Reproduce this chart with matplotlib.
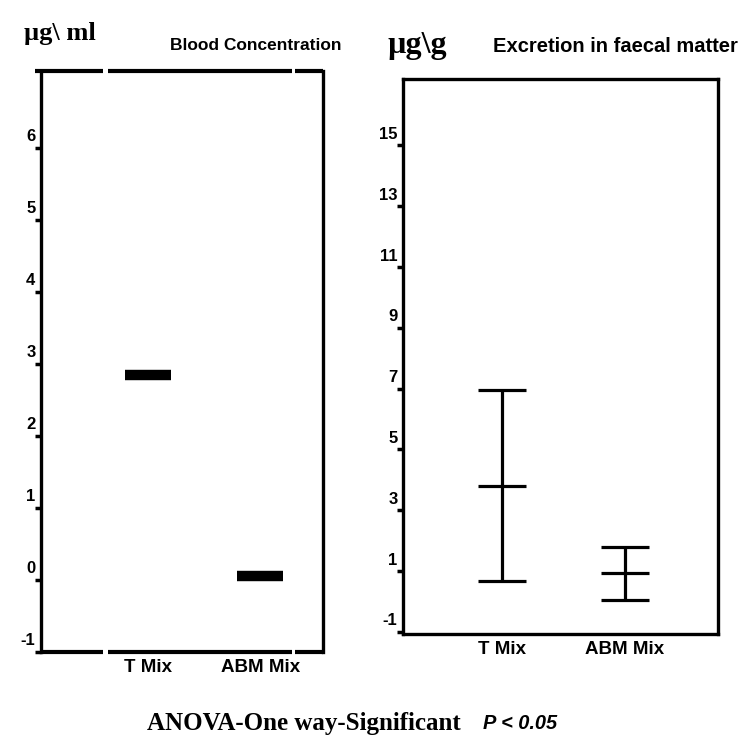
import matplotlib.pyplot as plt
from matplotlib.transforms import ScaledTranslation

groups = ["T Mix", "ABM Mix"]

blood_values = [2.85, 0.06]
blood_ticks = [-1, 0, 1, 2, 3, 4, 5, 6]

faecal_mean = [3.8, 0.93]
faecal_low = [0.67, 0.05]
faecal_high = [6.95, 1.79]
faecal_ticks = [-1, 1, 3, 5, 7, 9, 11, 13, 15]

SANS = ["Liberation Sans", "DejaVu Sans"]
SERIF = ["Liberation Serif", "DejaVu Serif"]

plt.rcParams["font.family"] = SANS


def style_axis(ax, fig, ticks):
    ax.set_yticks(ticks)
    ax.set_yticklabels([str(t) for t in ticks], fontsize=12, fontweight="bold")
    ax.tick_params(axis="y", direction="out", length=4, width=2.5, pad=0)
    ax.tick_params(axis="x", length=0, pad=5)
    offset = ScaledTranslation(0, 9 / 72, fig.dpi_scale_trans)
    for lbl in ax.get_yticklabels():
        lbl.set_transform(lbl.get_transform() + offset)
    ax.set_xticks(range(1, len(groups) + 1))
    ax.set_xticklabels(groups, fontsize=13.5, fontweight="bold")
    for side in ["left", "right", "top", "bottom"]:
        ax.spines[side].set_linewidth(2.4)


fig = plt.figure(figsize=(7.41, 7.39), dpi=100)

# left panel: blood concentration
ax1 = fig.add_axes([0.0553, 0.118, 0.3807, 0.786])
x_pos = range(1, len(groups) + 1)
ax1.plot(x_pos, blood_values, linestyle="none", marker="_", markersize=33,
         markeredgewidth=7.5, color="black")
ax1.set_xlim(0.04, 2.56)
ax1.set_ylim(-1, 7.07)
style_axis(ax1, fig, blood_ticks)
ax1.spines["top"].set_visible(False)
ax1.spines["bottom"].set_visible(False)
# broken top and bottom frame lines
for y_frame, x_start in [(1.0, -0.02), (0.0, 0.0)]:
    for x0, x1 in [(x_start, 0.22), (0.238, 0.89), (0.90, 1.0)]:
        ax1.plot([x0, x1], [y_frame, y_frame], transform=ax1.transAxes,
                 color="black", linewidth=3, clip_on=False,
                 solid_capstyle="butt")

# right panel: excretion in faecal matter
ax2 = fig.add_axes([0.544, 0.142, 0.425, 0.751])
yerr = [[m - lo for m, lo in zip(faecal_mean, faecal_low)],
        [hi - m for m, hi in zip(faecal_mean, faecal_high)]]
ax2.errorbar(list(x_pos), faecal_mean, yerr=yerr, fmt="_", color="black",
             markersize=35, markeredgewidth=2.3, elinewidth=2.3, capsize=17,
             capthick=2.3)
ax2.set_xlim(0.2, 2.76)
ax2.set_ylim(-1.07, 17.18)
style_axis(ax2, fig, faecal_ticks)

# headings
fig.text(0.032, 0.946, "µg\\ ml", family=SERIF, fontweight="bold", fontsize=19)
fig.text(0.230, 0.933, "Blood Concentration", fontweight="bold", fontsize=12.5)
fig.text(0.523, 0.928, "µg\\g", family=SERIF, fontweight="bold", fontsize=23)
fig.text(0.665, 0.930, "Excretion in faecal matter", fontweight="bold", fontsize=14.5)

# footer
fig.text(0.198, 0.012, "ANOVA-One way-Significant", family=SERIF,
         fontweight="bold", fontsize=18)
fig.text(0.652, 0.014, "P < 0.05", fontweight="bold", style="italic",
         fontsize=14.4)

fig.savefig("out.png", dpi=100)
